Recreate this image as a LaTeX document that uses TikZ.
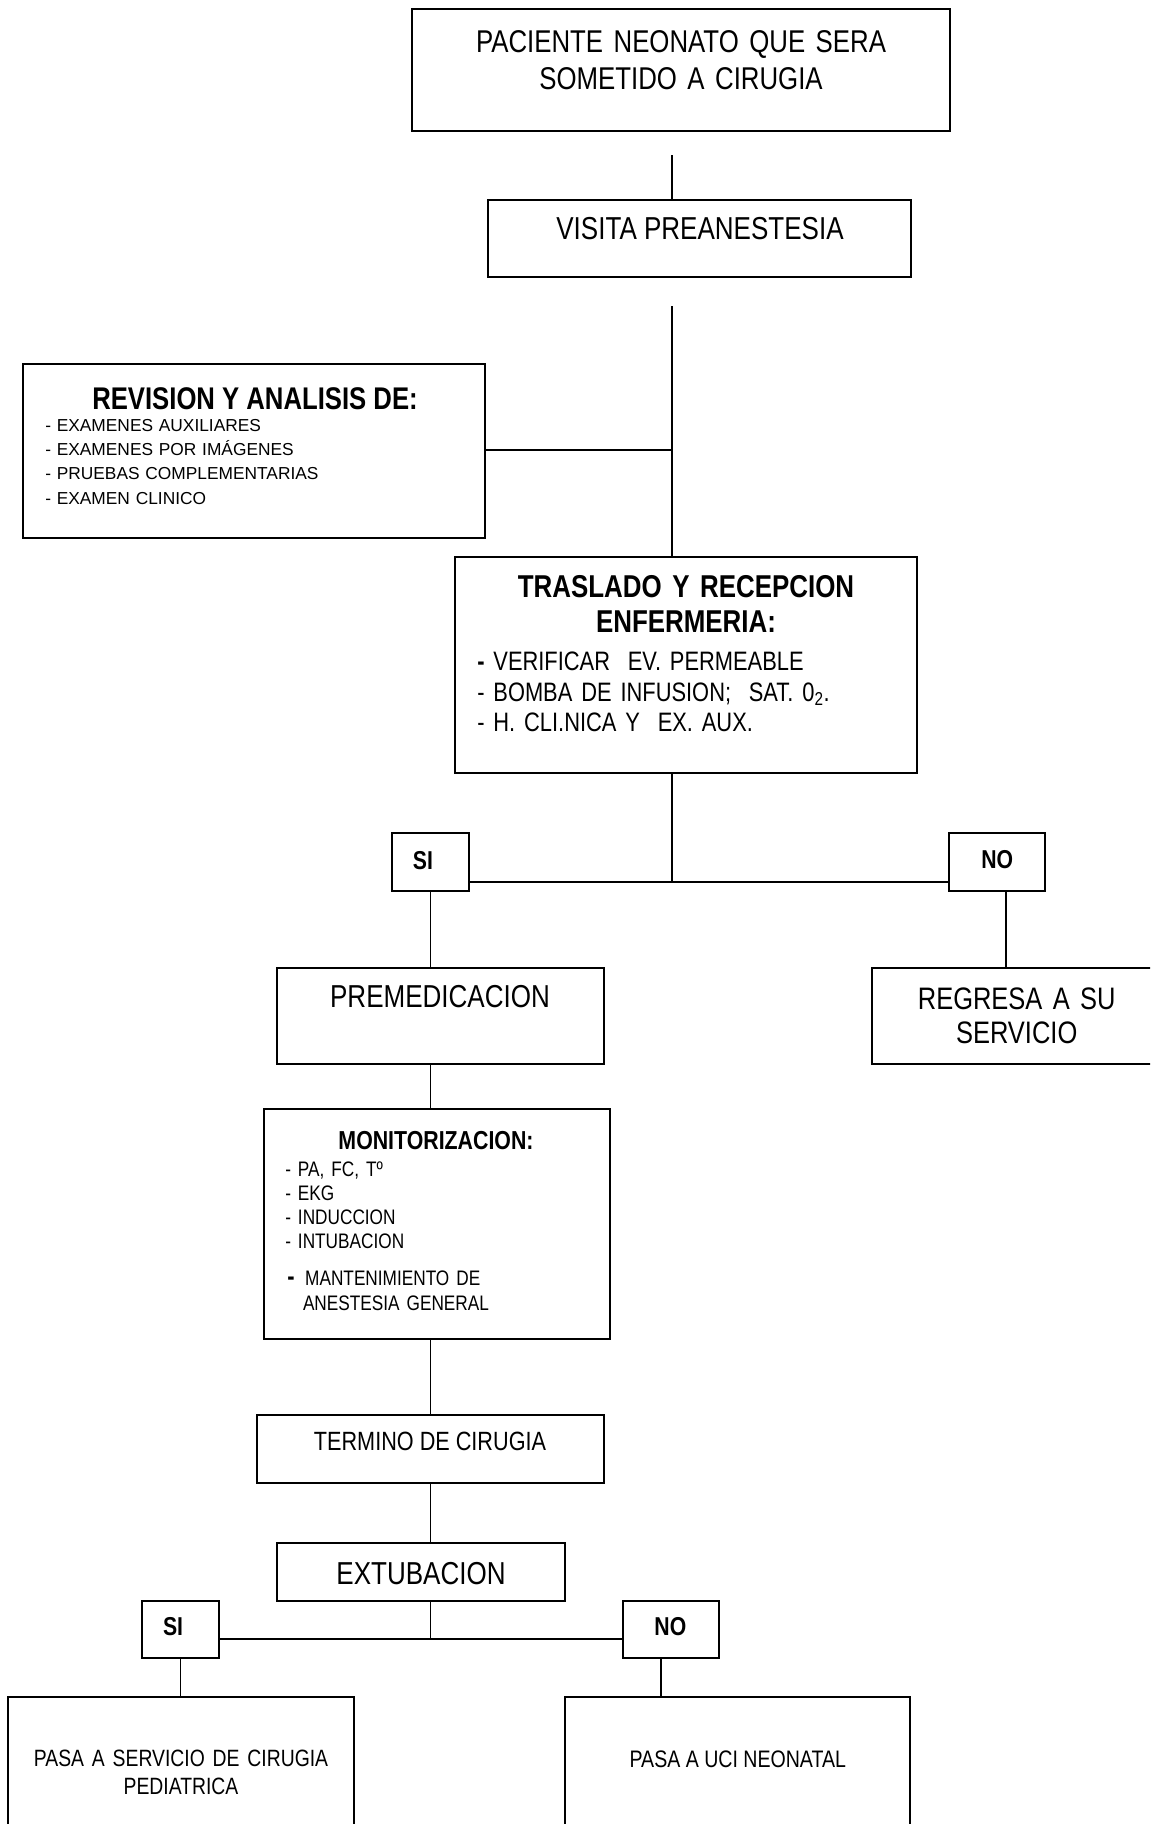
\documentclass[tikz,border=0pt]{standalone}
\usepackage{fontspec}
\setmainfont{Liberation Sans}
\newfontfamily\nar[FakeStretch=0.82]{Liberation Sans}
\newfontfamily\reg{Liberation Sans}
\newcommand\fs[2]{\fontsize{#1pt}{#2pt}\selectfont}
\newcommand\mkbox[5]{\node[box, minimum width={(#4-#2)*0.75pt}, minimum height={(#5-#3)*0.75pt}] (#1) at ({(#2+#4)/2},{(#3+#5)/2}) {};}
\frenchspacing
\begin{document}
\begin{tikzpicture}[x=0.75pt,y=-0.75pt,
  box/.style={draw, line width=1.5pt, inner sep=0pt, rectangle},
  conn/.style={line width=1.1pt},
  bar/.style={line width=1.5pt},
  txt/.style={inner sep=0pt, anchor=base},
  ltxt/.style={inner sep=0pt, anchor=base west, align=left},
]
\useasboundingbox (0,0) rectangle (1150,1824);
\fill[white] (0,0) rectangle (1150,1824);
\clip (0,0) rectangle (1150,1824);

% boxes
\mkbox{pac}{412}{9}{950}{131}
\mkbox{vis}{488}{200}{911}{277}
\mkbox{rev}{23}{364}{485}{538}
\mkbox{tras}{455}{557}{917}{773}
\mkbox{si1}{392}{833}{469}{891}
\mkbox{no1}{949}{833}{1045}{891}
\mkbox{prem}{276.5}{968}{603.5}{1064}
\mkbox{reg}{872}{968}{1161}{1064}
\mkbox{mon}{264}{1109}{609.5}{1339}
\mkbox{term}{257}{1415}{603.5}{1483}
\mkbox{ext}{276.5}{1543}{565}{1601}
\mkbox{si2}{142}{1601}{218.5}{1658}
\mkbox{no2}{623}{1601}{719}{1658}
\mkbox{pas}{8}{1697}{353.5}{1840}
\mkbox{uci}{565}{1697}{910}{1840}

% texts
\node[txt, text width=375pt, align=center, font=\nar\fs{23.6}{28.1}] (tpac) at (681,52) {PACIENTE NEONATO QUE SERA\\SOMETIDO A CIRUGIA};
\node[txt, font=\nar\fs{23.8}{28}] (tvis) at (700,239) {VISITA PREANESTESIA};
\node[txt, font=\nar\bfseries\fs{23.5}{28}] (trev) at (255,409) {REVISION Y ANALISIS DE:};
\node[ltxt, text width=300pt, font=\reg\fs{13}{18.1}] (trevi) at (45,431.7) {- EXAMENES AUXILIARES\\- EXAMENES POR IMÁGENES\\- PRUEBAS COMPLEMENTARIAS\\- EXAMEN CLINICO};
\node[txt, text width=375pt, align=center, font=\nar\bfseries\fs{23.7}{26.25}] (ttras) at (686,597.7) {TRASLADO Y RECEPCION\\ENFERMERIA:};
\node[ltxt, text width=330pt, font=\nar\fs{20}{22.9}] (ttrasi) at (477,670.7) {{\bfseries -} VERIFICAR\ \ EV. PERMEABLE\\- BOMBA DE INFUSION;\ \ SAT. 0\textsubscript{2}.\\- H. CLI.NICA Y\ \ EX. AUX.};
\node[ltxt, font=\nar\bfseries\fs{19.4}{23}] (tsi1) at (412.7,869.3) {SI};
\node[ltxt, font=\nar\bfseries\fs{19.4}{23}] (tno1) at (981,868.5) {NO};
\node[txt, font=\nar\fs{23.8}{28}] (tprem) at (440,1007.7) {PREMEDICACION};
\node[txt, text width=300pt, align=center, font=\nar\fs{23.3}{26}] (treg) at (1016.7,1009.3) {REGRESA A SU\\SERVICIO};
\node[txt, font=\nar\bfseries\fs{19.5}{23}] (tmon) at (436,1149.3) {MONITORIZACION:};
\node[ltxt, text width=250pt, font=\nar\fs{15.75}{17.9}] (tmoni) at (285,1176.7) {- PA, FC, Tº\\- EKG\\- INDUCCION\\- INTUBACION};
\node[ltxt, text width=250pt, font=\nar\fs{15.75}{19.3}] (tmonm) at (287,1285) {{\bfseries\fs{20}{19.3}-}\hspace{8pt}MANTENIMIENTO DE\\\hspace*{11.8pt}ANESTESIA GENERAL};
\node[txt, font=\nar\fs{19.8}{24}] (tterm) at (430,1450.7) {TERMINO DE CIRUGIA};
\node[txt, font=\nar\fs{23.8}{28}] (textub) at (421,1584) {EXTUBACION};
\node[ltxt, font=\nar\bfseries\fs{19.4}{23}] (tsi2) at (162.8,1635) {SI};
\node[ltxt, font=\nar\bfseries\fs{19.4}{23}] (tno2) at (654.2,1635) {NO};
\node[txt, text width=300pt, align=center, font=\nar\fs{17.7}{21.2}] (tpas) at (181,1766.7) {PASA A SERVICIO DE CIRUGIA\\PEDIATRICA};
\node[txt, font=\nar\fs{17.9}{21}] (tuci) at (737.8,1767.3) {PASA A UCI NEONATAL};

% connectors
\coordinate (a1) at (672,155);
\draw[conn] (a1) -- (a1 |- vis.north);
\coordinate (a2) at (672,306);
\draw[conn] (a2) -- (a2 |- tras.north);
\coordinate (a3) at (672,450);
\draw[bar] (rev.east |- a3) -- (a3);
\coordinate (j1) at (672,882);
\draw[conn] (tras.south -| j1) -- (j1);
\draw[bar] (si1.east |- j1) -- (no1.west |- j1);
\draw[conn] (si1.south) -- (si1.south |- prem.north);
\coordinate (n1) at (1006,891);
\draw[conn] (n1) -- (n1 |- reg.north);
\coordinate (l) at (430.5,0);
\draw[conn] (prem.south -| l) -- (mon.north -| l);
\draw[conn] (mon.south -| l) -- (term.north -| l);
\draw[conn] (term.south -| l) -- (ext.north -| l);
\coordinate (j2) at (430.5,1639);
\draw[conn] (ext.south -| j2) -- (j2);
\draw[bar] (si2.east |- j2) -- (no2.west |- j2);
\draw[conn] (si2.south) -- (si2.south |- pas.north);
\coordinate (n2) at (661,1658);
\draw[conn] (n2) -- (n2 |- uci.north);
\end{tikzpicture}
\end{document}
